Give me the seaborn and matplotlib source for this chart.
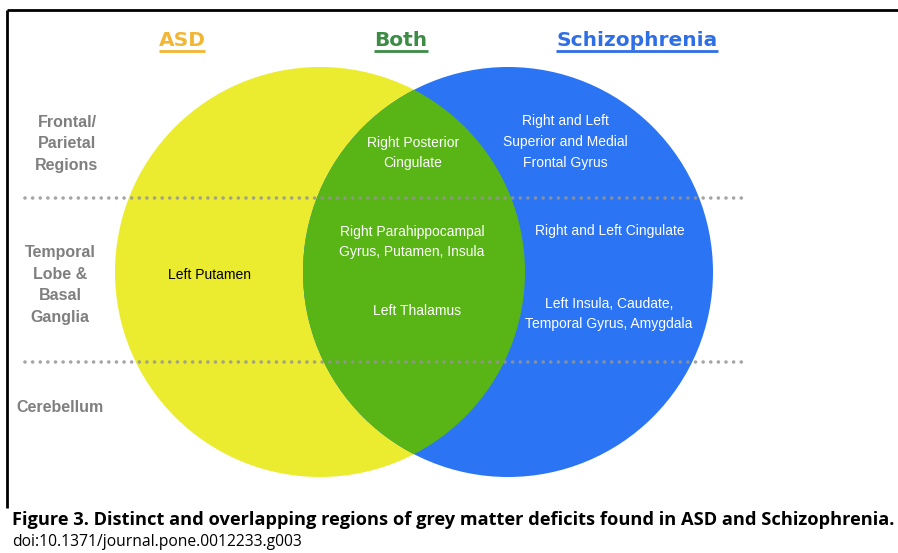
import matplotlib
matplotlib.use("Agg")
import matplotlib.pyplot as plt
from matplotlib.patches import Circle
import seaborn as sns

# ---------------- data ----------------
set_names = ["ASD", "Both", "Schizophrenia"]
set_colors = ["#F2B632", "#3C8C46", "#2F6FE6"]
fill_colors = ["#EBEC30", "#58B515", "#2B74F3"]

row_labels = ["Frontal/\nParietal\nRegions",
              "Temporal\nLobe &\nBasal\nGanglia",
              "Cerebellum"]

asd_only = ["Left Putamen"]
both_regions = ["Right Posterior\nCingulate",
                "Right Parahippocampal\nGyrus, Putamen, Insula",
                "Left Thalamus"]
schiz_only = ["Right and Left\nSuperior and Medial\nFrontal Gyrus",
              "Right and Left Cingulate",
              "Left Insula, Caudate,\nTemporal Gyrus, Amygdala"]

caption_bold = "Figure 3. Distinct and overlapping regions of grey matter deficits found in ASD and Schizophrenia."
caption_doi = "doi:10.1371/journal.pone.0012233.g003"

# ---------------- layout ----------------
W, H = 898, 553
sns.set_theme(style="white")
plt.rcParams['font.family'] = ['Liberation Sans', 'DejaVu Sans']

fig = plt.figure(figsize=(W / 100, H / 100), dpi=100)
ax = fig.add_axes([0, 0, 1, 1])
ax.set_xlim(0, W)
ax.set_ylim(H, 0)
ax.axis("off")

R = 205
cy = 272
cx_left, cx_right = 320, 508

c_left = Circle((cx_left, cy), R, facecolor=fill_colors[0], edgecolor="none", zorder=1)
c_right = Circle((cx_right, cy), R, facecolor=fill_colors[2], edgecolor="none", zorder=1)
ax.add_patch(c_left)
ax.add_patch(c_right)
clip = Circle((cx_right, cy), R, transform=ax.transData, facecolor="none", edgecolor="none")
ax.add_patch(clip)
lens = Circle((cx_left, cy), R, facecolor=fill_colors[1], edgecolor="none", zorder=2)
ax.add_patch(lens)
lens.set_clip_path(clip)

# frame
ax.plot([7, 7], [10, 508], color="black", lw=2, zorder=5, solid_capstyle="butt")
ax.plot([7, W], [10, 10], color="black", lw=2, zorder=5, solid_capstyle="butt")

# dotted separators
for ysep in (198, 362):
    ax.plot([25, 745], [ysep, ysep], color="#959595", lw=2.6, alpha=0.85,
            linestyle=(0, (0.01, 2.1)), dash_capstyle="round", zorder=3)

fig.canvas.draw()
renderer = fig.canvas.get_renderer()
inv = ax.transData.inverted()


def width_px(t):
    bb = t.get_window_extent(renderer=renderer)
    return bb.x1 - bb.x0


# titles with underlines
title_x = [182, 401, 637]
for name, col, x in zip(set_names, set_colors, title_x):
    t = ax.text(x, 40, name, color=col, fontsize=14.5, fontweight="bold",
                family=["DejaVu Sans"], ha="center", va="center", zorder=6)
    bb = t.get_window_extent(renderer=renderer)
    (x0, _), (x1, _) = inv.transform([[bb.x0, bb.y0], [bb.x1, bb.y1]])
    ax.plot([x0, x1], [51, 51], color=col, lw=2, zorder=6, solid_capstyle="butt")

# row labels
grey = "#7F7F7F"
row_pos = [(67, 144), (60, 285), (60, 407)]
for lab, (x, y) in zip(row_labels, row_pos):
    ax.text(x, y, lab, color=grey, fontsize=11.5, fontweight="bold",
            ha="center", va="center", linespacing=1.55, zorder=6)

# region texts
inner = dict(fontsize=10, ha="center", va="center", linespacing=1.6, zorder=6)
ax.text(209, 275, asd_only[0], color="black", **inner)
both_pos = [(413, 153), (412, 242), (417, 311)]
for s, (x, y) in zip(both_regions, both_pos):
    ax.text(x, y, s, color="white", **inner)
schiz_pos = [(565, 142), (610, 231), (609, 314)]
for s, (x, y) in zip(schiz_only, schiz_pos):
    ax.text(x, y, s, color="white", **inner)

# caption, sized to the width it spans in the figure
cap = ax.text(12, 520, caption_bold, fontsize=12, fontweight="bold",
              family=["Open Sans", "DejaVu Sans"], ha="left", va="center", color="black")
cap.set_fontsize(12 * 881 / width_px(cap))
doi = ax.text(12, 542, caption_doi, fontsize=12,
              family=["Open Sans", "DejaVu Sans"], ha="left", va="center", color="black")
doi.set_fontsize(12 * 288 / width_px(doi))

fig.savefig("out.png", dpi=100)
